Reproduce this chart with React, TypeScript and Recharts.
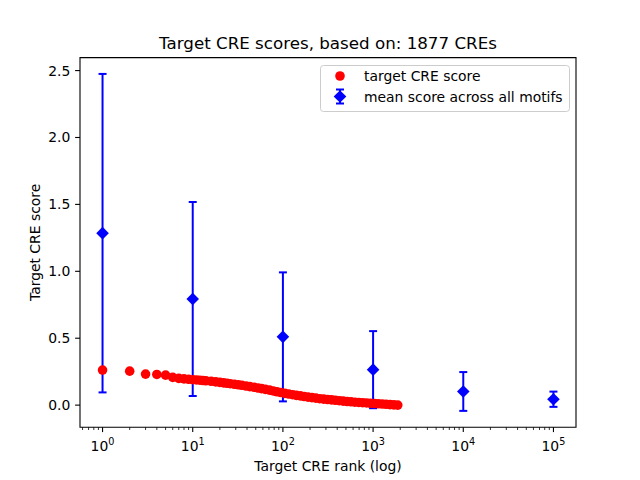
import { ComposedChart, Scatter, XAxis, YAxis, ErrorBar, ReferenceArea, Legend } from 'recharts'

// ranks of the target CREs (sampled along the curve) and their scores
const creRanks = [
  1, 2, 3, 4, 5, 6, 7, 8, 9, 10, 11, 12, 13, 14, 16, 18, 20, 22, 24, 26, 29, 32, 35, 39, 43, 48, 53, 58, 64, 71,
  78, 86, 95, 105, 116, 128, 141, 156, 172, 190, 210, 232, 256, 283, 313, 346, 382, 422, 466, 515, 569, 628, 694,
  767, 847, 936, 1034, 1142, 1262, 1394, 1540, 1700, 1877,
]
const creScores = [
  0.262, 0.254, 0.232, 0.229, 0.224, 0.207, 0.2, 0.196, 0.193, 0.19, 0.188, 0.186, 0.184, 0.182, 0.178, 0.174, 0.17,
  0.166, 0.163, 0.16, 0.156, 0.152, 0.148, 0.143, 0.138, 0.133, 0.128, 0.123, 0.118, 0.112, 0.106, 0.1, 0.094,
  0.088, 0.083, 0.078, 0.073, 0.069, 0.064, 0.06, 0.056, 0.052, 0.048, 0.045, 0.042, 0.039, 0.036, 0.033, 0.03,
  0.027, 0.025, 0.022, 0.02, 0.018, 0.016, 0.014, 0.012, 0.01, 0.008, 0.006, 0.004, 0.002, 0.0,
]

// mean score across all motifs, with error
const motifRanks = [1, 10, 100, 1000, 10000, 100000]
const motifMeans = [1.285, 0.793, 0.51, 0.265, 0.102, 0.044]
const motifErrs = [1.19, 0.725, 0.482, 0.288, 0.145, 0.057]

const majorTicks = [1, 10, 100, 1000, 10000, 100000]
const minorMults = [2, 3, 4, 5, 6, 7, 8, 9]
const yTicks = [0, 0.5, 1, 1.5, 2, 2.5]

const xDomain = [Math.pow(10, -0.25), Math.pow(10, 5.25)]
const yDomain = [-0.165, 2.597]

const xTicks = [0.6, 0.7, 0.8, 0.9]
  .concat(...majorTicks.map(t => [t, ...minorMults.map(m => m * t)]))
  .filter(v => v >= xDomain[0] && v <= xDomain[1])

const creData = creRanks.map((r, i) => ({ rank: r, score: creScores[i] }))
const motifData = motifRanks.map((r, i) => ({ rank: r, score: motifMeans[i], err: motifErrs[i] }))

const FONT = '"DejaVu Sans", sans-serif'

const XTick = (props: any) => {
  const { x, y, payload } = props
  const lg = Math.log10(payload.value)
  const exp = Math.round(lg)
  if (Math.abs(lg - exp) > 1e-6) {
    return <line x1={x} x2={x} y1={y} y2={y + 2.8} stroke="#000" strokeWidth={0.8} />
  }
  return (
    <g>
      <line x1={x} x2={x} y1={y} y2={y + 4.9} stroke="#000" strokeWidth={1.1} />
      <text x={x} y={y + 24} textAnchor="middle" fontSize={13.9} fontFamily={FONT} fill="#000">
        10<tspan dy={-6} fontSize={9.7}>{exp}</tspan>
      </text>
    </g>
  )
}

const YTick = (props: any) => {
  const { x, y, payload } = props
  return (
    <g>
      <line x1={x - 4.9} x2={x} y1={y} y2={y} stroke="#000" strokeWidth={1.1} />
      <text x={x - 9.7} y={y} dy="0.36em" textAnchor="end" fontSize={13.9} fontFamily={FONT} fill="#000">
        {payload.value.toFixed(1)}
      </text>
    </g>
  )
}

const RedDot = (props: any) => <circle cx={props.cx} cy={props.cy} r={4.8} fill="#ff0000" />

const Diamond = (props: any) => {
  const { cx, cy } = props
  const d = 6.3
  return <polygon points={`${cx},${cy - d} ${cx + d},${cy} ${cx},${cy + d} ${cx - d},${cy}`} fill="#0000ff" />
}

const LegendBox = () => (
  <svg width={250} height={47} style={{ display: 'block' }}>
    <rect x={0.5} y={0.5} width={249} height={46} rx={3} fill="#fff" fillOpacity={0.8} stroke="#cccccc" />
    <circle cx={20} cy={11} r={4.8} fill="#ff0000" />
    <text x={44} y={11} dy="0.36em" fontSize={13.9} fontFamily={FONT} fill="#000">target CRE score</text>
    <line x1={20} x2={20} y1={24.5} y2={38.5} stroke="#0000ff" strokeWidth={2} />
    <line x1={16} x2={24} y1={24.5} y2={24.5} stroke="#0000ff" strokeWidth={2} />
    <line x1={16} x2={24} y1={38.5} y2={38.5} stroke="#0000ff" strokeWidth={2} />
    <polygon points="20,25.2 26.3,31.5 20,37.8 13.7,31.5" fill="#0000ff" />
    <text x={44} y={31.5} dy="0.36em" fontSize={13.9} fontFamily={FONT} fill="#000">mean score across all motifs</text>
  </svg>
)

export default function App() {
  return (
    <div style={{ position: 'relative', width: 640, height: 480, background: '#fff' }}>
      <style>{'body{margin:0}'}</style>
      <ComposedChart width={640} height={480} margin={{ top: 57.6, right: 64, bottom: 0, left: 0 }}>
        <XAxis
          dataKey="rank"
          type="number"
          scale="log"
          domain={xDomain}
          allowDataOverflow
          ticks={xTicks}
          interval={0}
          height={52.8}
          tickSize={0}
          tickMargin={0}
          tickLine={false}
          axisLine={false}
          tick={(p: any) => <XTick {...p} />}
        />
        <YAxis
          dataKey="score"
          type="number"
          domain={yDomain}
          allowDataOverflow
          ticks={yTicks}
          interval={0}
          width={80}
          tickSize={0}
          tickMargin={0}
          tickLine={false}
          axisLine={false}
          tick={(p: any) => <YTick {...p} />}
        />
        <Scatter name="mean score across all motifs" data={motifData} shape={Diamond} isAnimationActive={false}>
          <ErrorBar dataKey="err" direction="y" width={4} stroke="#0000ff" strokeWidth={2} isAnimationActive={false} />
        </Scatter>
        <Scatter name="target CRE score" data={creData} shape={RedDot} isAnimationActive={false} />
        <ReferenceArea
          x1={xDomain[0]}
          x2={xDomain[1]}
          y1={yDomain[0]}
          y2={yDomain[1]}
          fill="none"
          stroke="#000"
          strokeWidth={1.1}
          ifOverflow="visible"
        />
        <Legend
          layout="vertical"
          align="center"
          verticalAlign="middle"
          content={() => <LegendBox />}
          wrapperStyle={{ left: 320, top: 65, width: 250, height: 47 }}
        />
      </ComposedChart>
      <svg
        width={640}
        height={480}
        style={{ position: 'absolute', left: 0, top: 0, pointerEvents: 'none' }}
        fontFamily={FONT}
      >
        <text x={328} y={49} textAnchor="middle" fontSize={16.7} fill="#000">
          Target CRE scores, based on: 1877 CREs
        </text>
        <text x={328} y={471} textAnchor="middle" fontSize={13.9} fill="#000">
          Target CRE rank (log)
        </text>
        <text transform="translate(40,242.4) rotate(-90)" textAnchor="middle" fontSize={13.9} fill="#000">
          Target CRE score
        </text>
      </svg>
    </div>
  )
}
